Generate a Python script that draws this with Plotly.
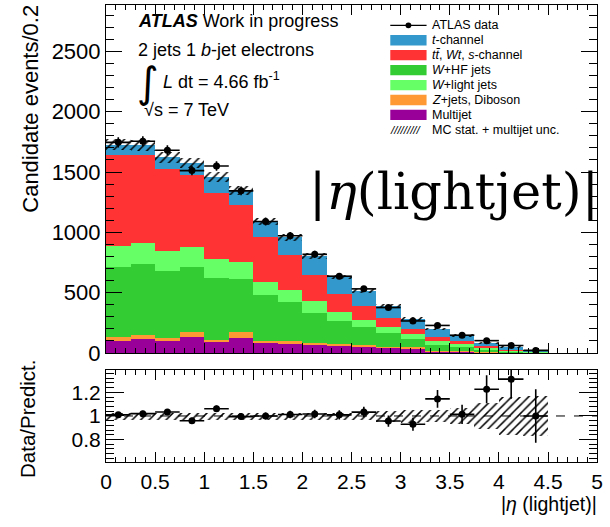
import numpy as np
import plotly.graph_objects as go

# ---------------- data ----------------
bin_edges = [0.0, 0.25, 0.5, 0.75, 1.0, 1.25, 1.5, 1.75, 2.0, 2.25, 2.5,
             2.75, 3.0, 3.25, 3.5, 3.75, 4.0, 4.25, 4.5]
multijet = [103, 116, 97, 138, 89, 129, 81, 78, 70, 62, 54, 46, 40, 16, 10, 5, 3, 1]
zjets_diboson = [35, 35, 32, 40, 22, 43, 22, 25, 14, 12, 11, 7, 8, 6, 5, 3, 1, 1]
w_hf = [574, 585, 548, 534, 509, 443, 377, 318, 250, 193, 153, 111, 71, 48, 36, 22, 11, 5]
w_light = [180, 178, 170, 167, 157, 143, 108, 102, 100, 73, 54, 54, 37, 35, 30, 13, 7, 3]
ttbar_wt_s = [748, 726, 679, 599, 547, 472, 372, 289, 216, 148, 116, 73, 41, 27, 16, 14, 8, 4]
t_channel = [89, 81, 99, 97, 136, 121, 130, 148, 154, 143, 127, 103, 89, 68, 49, 27, 18, 8]
data = [1746, 1755, 1680, 1512, 1550, 1344, 1090, 972, 818, 637, 532, 377, 266, 229, 148, 103, 63, 22]
data_err = [42, 42, 41, 39, 39, 37, 33, 31, 29, 25, 23, 19, 16, 15, 12, 10, 8, 5]
mc_rel_unc = [0.028, 0.028, 0.028, 0.028, 0.028, 0.028, 0.028, 0.028, 0.03, 0.03,
              0.033, 0.045, 0.055, 0.052, 0.068, 0.11, 0.16, 0.17]
x_ticks = [0, 0.5, 1, 1.5, 2, 2.5, 3, 3.5, 4, 4.5, 5]

# stacking order (bottom -> top)
components = [
    ("Multijet", multijet, "#990099"),
    ("<i>Z</i>+jets, Diboson", zjets_diboson, "#FF9933"),
    ("<i>W</i>+HF jets", w_hf, "#33CC33"),
    ("<i>W</i>+light jets", w_light, "#66FF66"),
    ("<i>t</i><i>t\u0304</i>, <i>Wt</i>, <i>s</i>-channel", ttbar_wt_s, "#FF3333"),
    ("<i>t</i>-channel", t_channel, "#3399CC"),
]
legend_order = [5, 4, 2, 3, 1, 0]

edges = np.array(bin_edges)
centers = 0.5 * (edges[:-1] + edges[1:])
widths = np.diff(edges)

W, H = 610, 527
def px(x):
    return x / W
def py(y):
    return 1 - y / H

FONT = "Liberation Sans, Arial, Helvetica, sans-serif"

fig = go.Figure()

# stacked MC components
base = np.zeros(len(centers))
for name, vals, col in components:
    v = np.array(vals, dtype=float)
    fig.add_trace(go.Bar(x=centers, y=v, base=base.copy(), width=widths,
                         marker=dict(color=col, line=dict(width=0)),
                         name=name, xaxis="x", yaxis="y", hoverinfo="skip"))
    base = base + v
total = base

# MC uncertainty hatch (main)
unc_abs = total * np.array(mc_rel_unc)
hatch = dict(shape="/", fgcolor="black", bgcolor="rgba(0,0,0,0)", size=6, solidity=0.25, fgopacity=1)
fig.add_trace(go.Bar(x=centers, y=2 * unc_abs, base=total - unc_abs, width=widths,
                     marker=dict(color="rgba(0,0,0,0)", line=dict(width=0), pattern=hatch),
                     xaxis="x", yaxis="y", hoverinfo="skip"))

# data points (main)
fig.add_trace(go.Scatter(x=centers, y=data, mode="markers",
                         marker=dict(color="black", size=7),
                         error_x=dict(type="data", array=widths / 2, color="black", thickness=1.6, width=0),
                         error_y=dict(type="data", array=data_err, color="black", thickness=1.6, width=0),
                         xaxis="x", yaxis="y", hoverinfo="skip"))

# ratio panel
rel = np.array(mc_rel_unc)
fig.add_trace(go.Bar(x=centers, y=2 * rel, base=1 - rel, width=widths,
                     marker=dict(color="rgba(0,0,0,0)", line=dict(width=0), pattern=hatch),
                     xaxis="x2", yaxis="y2", hoverinfo="skip"))
ratio = np.array(data) / total
ratio_err = np.array(data_err) / total
fig.add_trace(go.Scatter(x=centers, y=ratio, mode="markers",
                         marker=dict(color="black", size=7),
                         error_x=dict(type="data", array=widths / 2, color="black", thickness=1.6, width=0),
                         error_y=dict(type="data", array=ratio_err, color="black", thickness=1.6, width=0),
                         xaxis="x2", yaxis="y2", hoverinfo="skip"))

axis_common = dict(showline=True, linecolor="black", linewidth=1, mirror="allticks",
                   ticks="inside", tickcolor="black", showgrid=False, zeroline=False,
                   tickfont=dict(family=FONT, size=21, color="black"))

xdom = [px(102), px(603)]
fig.update_layout(
    width=W, height=H, margin=dict(l=0, r=0, t=0, b=0),
    paper_bgcolor="white", plot_bgcolor="white",
    barmode="overlay", bargap=0, showlegend=False,
    xaxis=dict(domain=xdom, anchor="y", range=[0, 5], tickvals=x_ticks, showticklabels=False,
               ticklen=10, minor=dict(dtick=0.1, ticklen=5, ticks="inside", tickcolor="black"),
               **axis_common),
    yaxis=dict(domain=[py(362), py(5)], anchor="x", range=[0, 2885], dtick=500,
               ticklen=16, minor=dict(dtick=100, ticklen=8, ticks="inside", tickcolor="black"),
               **{**axis_common, "tickfont": dict(family=FONT, size=22, color="black")}),
    xaxis2=dict(domain=xdom, anchor="y2", range=[0, 5], matches="x", tickvals=x_ticks,
                ticklen=10, minor=dict(dtick=0.1, ticklen=5, ticks="inside", tickcolor="black"),
                **axis_common),
    yaxis2=dict(domain=[py(474), py(379)], anchor="x2", range=[0.607, 1.393],
                tickvals=[0.8, 1.0, 1.2], ticktext=["0.8", "1", "1.2"],
                ticklen=18, minor=dict(dtick=0.04, tick0=0.8, ticklen=8, ticks="inside", tickcolor="black"),
                **axis_common),
)

# dashed unity line in ratio panel
fig.add_shape(type="line", xref="x2 domain", x0=0, x1=1, yref="y2", y0=1, y1=1,
              line=dict(color="black", width=1, dash="dash"))

ann = []
def text(x, y, s, size, xanchor="left", yanchor="middle", family=FONT, angle=0):
    ann.append(dict(x=px(x), y=py(y), xref="paper", yref="paper", text=s, showarrow=False,
                    xanchor=xanchor, yanchor=yanchor, textangle=angle, borderpad=0,
                    font=dict(family=family, size=size, color="black")))

# axis titles
text(25, 112, "Candidate events/0.2", 22, xanchor="center", angle=-90)
text(22, 429, "Data/Predict.", 20.5, xanchor="center", angle=-90)
text(604, 517, "|<i>η</i> (lightjet)|", 19.5, xanchor="right")

# ATLAS labels
text(134, 22, "<b><i>ATLAS</i></b> Work in progress", 18)
text(134, 51, "2 jets 1 <i>b</i>-jet electrons", 18)
text(145, 85, "\u222B", 42, xanchor="center", family="DejaVu Sans")
text(159, 83, "<i>L</i> dt = 4.66 fb<sup>-1</sup>", 18)
text(140, 113, "\u221As = 7 TeV", 18)

# big label
text(606, 196, "|<i>η</i>(lightjet)|", 51, xanchor="right", family="DejaVu Serif")

# legend
leg_y0, leg_dy = 26, 15.3
bx0, bx1 = 392, 429
legend_items = [("ATLAS data", None)] + \
               [(components[k][0], components[k][2]) for k in legend_order] + \
               [("MC stat. + multijet unc.", "hatch")]
shapes = []
for i, (name, col) in enumerate(legend_items):
    yc = leg_y0 + i * leg_dy
    if col is None:
        shapes.append(dict(type="line", xref="paper", yref="paper", x0=px(bx0), x1=px(bx1),
                           y0=py(yc), y1=py(yc), line=dict(color="black", width=1.3)))
        shapes.append(dict(type="circle", xref="paper", yref="paper", x0=px(407.5), x1=px(413.5),
                           y0=py(yc + 3), y1=py(yc - 3), fillcolor="black", line=dict(width=0)))
    elif col == "hatch":
        text(bx0 - 1, yc, "<i>/////////</i>", 11.5)
    else:
        shapes.append(dict(type="rect", xref="paper", yref="paper", x0=px(bx0), x1=px(bx1),
                           y0=py(yc + 5.3), y1=py(yc - 5.3), fillcolor=col, line=dict(width=0)))
    text(434, yc, name, 12.5)

for s in shapes:
    fig.add_shape(**s)
fig.update_layout(annotations=ann)

page_fix = ("document.documentElement.style.margin='0';document.documentElement.style.padding='0';"
            "document.documentElement.style.overflow='hidden';"
            "document.body.style.margin='0';document.body.style.padding='0';"
            "document.body.style.overflow='hidden';")
fig.write_html("out.html", config={"displayModeBar": False}, post_script=page_fix)
